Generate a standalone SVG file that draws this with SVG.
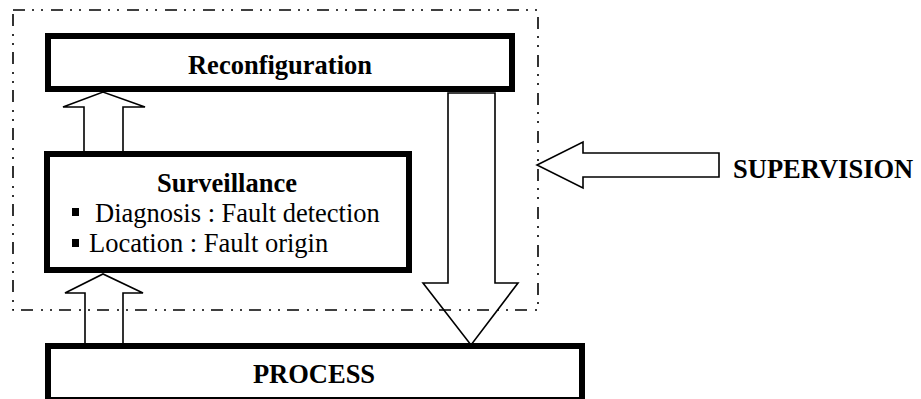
<svg xmlns="http://www.w3.org/2000/svg" width="921" height="399" viewBox="0 0 921 399">
<style>
.box{fill:#fff;stroke:#000;stroke-width:6}
.arrow{fill:none;stroke:#000;stroke-width:1.6;stroke-linejoin:miter}
.border{fill:none;stroke:#000;stroke-width:1.6;stroke-dasharray:12 7 2 7 2 8}
text{fill:#000;font-size:26.5px}
.b{font-weight:bold}
</style>
<rect width="921" height="399" fill="#fff"/>
<g id="supervision-boundary">
<rect class="border" x="13" y="10" width="525" height="300"/>
</g>
<g id="reconfiguration">
<rect class="box" x="48" y="36" width="464" height="53"/>
<text class="b" font-family="Liberation Serif, serif" x="280" y="74" text-anchor="middle">Reconfiguration</text>
</g>
<g id="surveillance">
<rect class="box" x="47" y="154" width="362" height="116"/>
<text class="b" font-family="Liberation Serif, serif" x="227" y="192" text-anchor="middle">Surveillance</text>
<rect x="72" y="208" width="7" height="8" fill="#000"/>
<text font-family="Liberation Serif, serif" x="95" y="222">Diagnosis : Fault detection</text>
<rect x="72" y="239" width="7" height="8" fill="#000"/>
<text font-family="Liberation Serif, serif" x="89" y="252">Location : Fault origin</text>
</g>
<g id="process">
<rect class="box" x="48" y="346" width="534" height="54"/>
<text class="b" font-family="Liberation Serif, serif" x="314" y="383" text-anchor="middle">PROCESS</text>
</g>
<g id="supervision-label">
<text class="b" font-family="Liberation Serif, serif" x="733" y="178">SUPERVISION</text>
</g>
<g id="connectors">
<polyline class="arrow" points="84,151 84,107 63,107 103,92 145,107 123,107 123,151"/>
<polyline class="arrow" points="85,343 85,293 65,293 103,274 143,293 123,293 123,343"/>
<polygon class="arrow" points="448,93 448,283 423,283 471,345 518,283 495,283 495,93"/>
<polygon class="arrow" points="719,153 583,153 583,142 537,165 583,188 583,177 719,177"/>
</g>
</svg>
